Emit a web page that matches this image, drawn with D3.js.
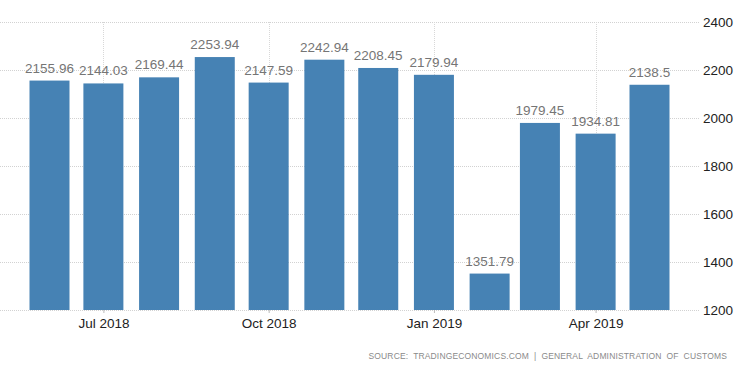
<!DOCTYPE html>
<html><head><meta charset="utf-8">
<script src="https://cdn.jsdelivr.net/npm/d3@7"></script>
<style>
html,body{margin:0;padding:0;background:#fff;}
svg{display:block;}
</style></head>
<body>
<svg id="chart" width="750" height="373"></svg>
<script>
const months = ["2018-06","2018-07","2018-08","2018-09","2018-10","2018-11","2018-12","2019-01","2019-02","2019-03","2019-04","2019-05"];
const values = [2155.96, 2144.03, 2169.44, 2253.94, 2147.59, 2242.94, 2208.45, 2179.94, 1351.79, 1979.45, 1934.81, 2138.5];
const valueLabels = ["2155.96","2144.03","2169.44","2253.94","2147.59","2242.94","2208.45","2179.94","1351.79","1979.45","1934.81","2138.5"];
const yTicks = [1200, 1400, 1600, 1800, 2000, 2200, 2400];
const xTicks = ["2018-07","2018-10","2019-01","2019-04"];
const sourceText = "SOURCE: TRADINGECONOMICS.COM | GENERAL ADMINISTRATION OF CUSTOMS";

const parse = d3.timeParse("%Y-%m");
const svg = d3.select("#chart");
const x = d3.scaleTime().domain([parse("2018-06"), parse("2019-05")]).range([49.5, 649.5]);
const y = d3.scaleLinear().domain([1200, 2400]).range([310, 22]);
const gridLeft = 0, gridRight = 699;
const barW = 40;

// horizontal grid
svg.append("g").selectAll("line").data(yTicks).join("line")
  .attr("x1", gridLeft).attr("x2", gridRight)
  .attr("y1", d => Math.round(y(d)) + 0.5).attr("y2", d => Math.round(y(d)) + 0.5)
  .attr("stroke", "#d2d2d2").attr("stroke-width", 1).attr("stroke-dasharray", "1,1");

// vertical grid
svg.append("g").selectAll("line").data(xTicks).join("line")
  .attr("x1", d => Math.round(x(parse(d))) + 0.5).attr("x2", d => Math.round(x(parse(d))) + 0.5)
  .attr("y1", y(2400)).attr("y2", y(1200))
  .attr("stroke", "#d8d8d8").attr("stroke-width", 1).attr("stroke-dasharray", "1,1");

// bars
svg.append("g").selectAll("rect").data(values).join("rect")
  .attr("x", (d, i) => x(parse(months[i])) - barW / 2)
  .attr("width", barW)
  .attr("y", d => y(d))
  .attr("height", d => y(1200) - y(d))
  .attr("fill", "#4682B4");

// value labels
svg.append("g").selectAll("text").data(values).join("text")
  .attr("x", (d, i) => x(parse(months[i])))
  .attr("y", d => y(d) - 8)
  .attr("text-anchor", "middle")
  .attr("font-family", "Liberation Sans, Arial, sans-serif")
  .attr("font-size", 13.5)
  .attr("fill", "#757575")
  .text((d, i) => valueLabels[i]);

// x axis
const xAxis = d3.axisBottom(x)
  .tickValues(xTicks.map(parse))
  .tickFormat(d3.timeFormat("%b %Y"))
  .tickSize(3).tickPadding(5);
const gx = svg.append("g").attr("transform", `translate(0,${y(1200)})`).call(xAxis);
gx.select(".domain").remove();
gx.selectAll(".tick line").attr("stroke", "#bbb");
gx.selectAll("text").attr("font-family", "Liberation Sans, Arial, sans-serif").attr("font-size", 13.5).attr("fill", "#222");

// y axis (right)
const yAxis = d3.axisRight(y).tickValues(yTicks).tickFormat(d3.format("d")).tickSize(0).tickPadding(0);
const gy = svg.append("g").attr("transform", `translate(703,0)`).call(yAxis);
gy.select(".domain").remove();
gy.selectAll("text").attr("font-family", "Liberation Sans, Arial, sans-serif").attr("font-size", 13.5).attr("fill", "#222");

// source
svg.append("text")
  .attr("x", 727).attr("y", 359)
  .attr("text-anchor", "end")
  .attr("font-family", "Liberation Sans, Arial, sans-serif")
  .attr("font-size", 8.5)
  .attr("letter-spacing", 0.15)
  .attr("word-spacing", 2.5)
  .attr("fill", "#8a8a8a")
  .text(sourceText);
</script>
</body></html>
